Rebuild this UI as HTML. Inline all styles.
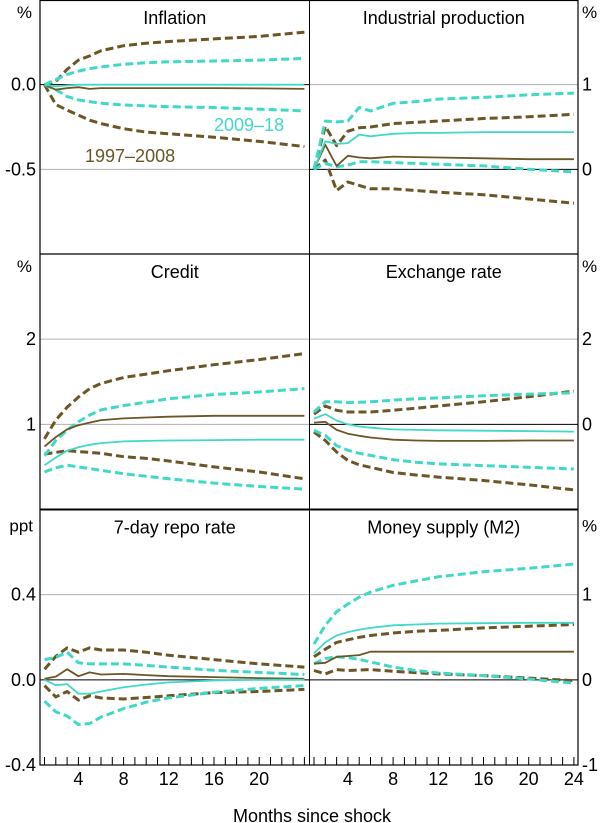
<!DOCTYPE html>
<html><head><meta charset="utf-8">
<style>
html,body{margin:0;padding:0;background:#fff;}
svg{display:block;font-family:"Liberation Sans",Arial,sans-serif;}
</style></head>
<body>
<svg id="chart" width="600" height="823" viewBox="0 0 600 823"></svg>
<script>
const months = [1,2,3,4,5,6,8,10,12,16,20,24];
// Inflation
const inflBrownUp = [0,0.02,0.09,0.145,0.17,0.2,0.23,0.245,0.255,0.27,0.285,0.31];
const inflBrownMid = [0,-0.03,-0.02,-0.015,-0.025,-0.02,-0.02,-0.02,-0.02,-0.02,-0.022,-0.025];
const inflBrownLo = [0,-0.117,-0.15,-0.18,-0.21,-0.23,-0.26,-0.28,-0.29,-0.31,-0.335,-0.365];
const inflTealUp = [0,0.03,0.06,0.08,0.095,0.105,0.12,0.13,0.135,0.14,0.145,0.155];
const inflTealMid = [0,-0.01,-0.005,0,0,0,0,0,0,0,0,0];
const inflTealLo = [0,-0.03,-0.07,-0.09,-0.1,-0.11,-0.12,-0.125,-0.13,-0.135,-0.145,-0.155];
// Industrial production
const ipBrownUp = [0,0.51,0.28,0.45,0.49,0.5,0.54,0.555,0.57,0.6,0.62,0.65];
const ipBrownMid = [0,0.29,0.04,0.16,0.14,0.13,0.15,0.145,0.14,0.13,0.12,0.12];
const ipBrownLo = [0,0.11,-0.25,-0.15,-0.19,-0.23,-0.23,-0.25,-0.27,-0.3,-0.35,-0.4];
const ipTealUp = [0,0.57,0.56,0.57,0.73,0.69,0.78,0.8,0.83,0.85,0.88,0.9];
const ipTealMid = [0,0.33,0.3,0.31,0.41,0.39,0.42,0.43,0.43,0.44,0.44,0.44];
const ipTealLo = [0,0.07,0.03,0.05,0.09,0.09,0.08,0.07,0.06,0.04,0,-0.03];
// Credit
const crBrownUp = [0.83,1.05,1.2,1.32,1.42,1.48,1.55,1.59,1.63,1.7,1.76,1.83];
const crBrownMid = [0.74,0.85,0.94,0.99,1.02,1.05,1.07,1.08,1.09,1.1,1.1,1.1];
const crBrownLo = [0.65,0.67,0.69,0.68,0.67,0.66,0.62,0.6,0.57,0.5,0.44,0.36];
const crTealUp = [0.63,0.81,0.93,1.03,1.11,1.17,1.22,1.26,1.3,1.35,1.38,1.42];
const crTealMid = [0.52,0.61,0.69,0.73,0.76,0.78,0.8,0.805,0.81,0.815,0.82,0.82];
const crTealLo = [0.44,0.49,0.52,0.5,0.48,0.46,0.42,0.39,0.36,0.31,0.27,0.24];
// Exchange rate
const fxBrownUp = [0.24,0.43,0.33,0.29,0.29,0.29,0.33,0.38,0.43,0.53,0.65,0.78];
const fxBrownMid = [0.04,0.06,-0.13,-0.22,-0.27,-0.31,-0.36,-0.38,-0.39,-0.39,-0.38,-0.38];
const fxBrownLo = [-0.18,-0.38,-0.65,-0.85,-0.95,-1.01,-1.13,-1.19,-1.24,-1.32,-1.42,-1.54];
const fxTealUp = [0.29,0.53,0.53,0.51,0.52,0.53,0.57,0.6,0.62,0.67,0.71,0.74];
const fxTealMid = [0.13,0.24,0.09,0,-0.05,-0.08,-0.12,-0.13,-0.14,-0.15,-0.16,-0.17];
const fxTealLo = [-0.14,-0.26,-0.5,-0.61,-0.68,-0.73,-0.83,-0.89,-0.93,-0.97,-1.01,-1.05];
// Repo rate
const rpBrownUp = [0.05,0.11,0.15,0.13,0.15,0.14,0.14,0.13,0.115,0.095,0.075,0.06];
const rpBrownMid = [0.005,0.015,0.05,0.017,0.035,0.025,0.028,0.022,0.017,0.013,0.008,0.005];
const rpBrownLo = [-0.027,-0.08,-0.055,-0.095,-0.075,-0.085,-0.09,-0.083,-0.075,-0.06,-0.055,-0.045];
const rpTealUp = [0.095,0.105,0.13,0.08,0.075,0.075,0.075,0.068,0.06,0.045,0.035,0.025];
const rpTealMid = [0,-0.025,-0.02,-0.065,-0.065,-0.055,-0.035,-0.022,-0.012,-0.003,0,0];
const rpTealLo = [-0.1,-0.15,-0.17,-0.21,-0.205,-0.175,-0.135,-0.105,-0.085,-0.058,-0.04,-0.027];
// Money supply
const m2BrownUp = [0.27,0.36,0.44,0.47,0.5,0.52,0.55,0.57,0.58,0.61,0.63,0.65];
const m2BrownMid = [0.19,0.2,0.27,0.28,0.29,0.33,0.33,0.33,0.33,0.33,0.33,0.33];
const m2BrownLo = [0.11,0.07,0.12,0.11,0.115,0.12,0.1,0.085,0.07,0.05,0.02,-0.01];
const m2TealUp = [0.42,0.64,0.8,0.89,0.97,1.03,1.11,1.16,1.21,1.27,1.31,1.36];
const m2TealMid = [0.31,0.44,0.52,0.56,0.59,0.61,0.64,0.65,0.66,0.665,0.67,0.67];
const m2TealLo = [0.19,0.25,0.27,0.26,0.24,0.21,0.15,0.11,0.08,0.05,0.01,-0.04];
const xTickLabelsLeft = [4,8,12,16,20];
const xTickLabelsRight = [4,8,12,16,20,24];

const BROWN = "#6b5625", TEAL = "#40d9c6";
const svg = document.getElementById('chart');
const NS = "http://www.w3.org/2000/svg";
function mk(tag, attrs, parent){ const e=document.createElementNS(NS,tag); for(const k in attrs) e.setAttribute(k,attrs[k]); (parent||svg).appendChild(e); return e; }

const colX = [[40,309.5],[309.5,578]];
const rowY = [[0,254],[254,509.5],[509.5,765]];
function xScale(col){ const L=colX[col][0]; return m => L+4.5+(m-1)*11.3; }
function yScale(row,min,max){ const [t,b]=rowY[row]; return v => b-(v-min)/(max-min)*(b-t); }

const panels = [
 {name:'inflation',title:'Inflation',col:0,row:0,min:-1,max:0.5,ticks:[0,-0.5],labels:['0.0','-0.5'],unit:'%',series:[inflBrownUp,inflBrownMid,inflBrownLo,inflTealUp,inflTealMid,inflTealLo]},
 {name:'industrial-production',title:'Industrial production',col:1,row:0,min:-1,max:2,ticks:[1,0],labels:['1','0'],unit:'%',series:[ipBrownUp,ipBrownMid,ipBrownLo,ipTealUp,ipTealMid,ipTealLo]},
 {name:'credit',title:'Credit',col:0,row:1,min:0,max:3,ticks:[2,1],labels:['2','1'],unit:'%',series:[crBrownUp,crBrownMid,crBrownLo,crTealUp,crTealMid,crTealLo]},
 {name:'exchange-rate',title:'Exchange rate',col:1,row:1,min:-2,max:4,ticks:[2,0],labels:['2','0'],unit:'%',series:[fxBrownUp,fxBrownMid,fxBrownLo,fxTealUp,fxTealMid,fxTealLo]},
 {name:'repo-rate',title:'7-day repo rate',col:0,row:2,min:-0.4,max:0.8,ticks:[0.4,0],labels:['0.4','0.0'],unit:'ppt',series:[rpBrownUp,rpBrownMid,rpBrownLo,rpTealUp,rpTealMid,rpTealLo]},
 {name:'money-supply',title:'Money supply (M2)',col:1,row:2,min:-1,max:2,ticks:[1,0],labels:['1','0'],unit:'%',series:[m2BrownUp,m2BrownMid,m2BrownLo,m2TealUp,m2TealMid,m2TealLo]}
];

panels.forEach(p=>{
  const g=mk('g',{});
  
  
  const x=xScale(p.col), y=yScale(p.row,p.min,p.max);
  const [L,R]=colX[p.col];
  p.ticks.forEach((t,i)=>{
    const yy=y(t);
    const gl=mk('line',{x1:L,x2:R,y1:yy,y2:yy,stroke:t===0?'#000':'#b0b0b0','stroke-width':1},g);
    
    
    const lab=mk('text',{x:p.col===0?36:582,y:yy+6,'font-size':18,'text-anchor':p.col===0?'end':'start',fill:'#000'},g);
    lab.textContent=p.labels[i];
    
    
  });
  if(p.row===2){
    const yy=y(p.min);
    const lab=mk('text',{x:p.col===0?36:582,y:yy+6,'font-size':18,'text-anchor':p.col===0?'end':'start',fill:'#000'},g);
    lab.textContent=p.col===0?'-0.4':'-1';
    
    
  }
  const u=mk('text',{x:p.col===0?(p.unit==='ppt'?33:32):582,y:rowY[p.row][0]+(p.row===2?22:18),'font-size':17,'text-anchor':p.col===0?'end':'start'},g);
  u.textContent=p.unit;
  
  
  const tt=mk('text',{x:(L+R)/2,y:rowY[p.row][0]+24,'font-size':18,'text-anchor':'middle'},g);
  tt.textContent=p.title;
  
  
  const styles=[[BROWN,true],[BROWN,false],[BROWN,true],[TEAL,true],[TEAL,false],[TEAL,true]];
  const names=['brown-upper-band','brown-response','brown-lower-band','teal-upper-band','teal-response','teal-lower-band'];
  const order=[0,2,3,5,1,4];
  order.forEach(i=>{
    const d=p.series[i].map((v,j)=>(j?'L':'M')+x(months[j]).toFixed(1)+','+y(v).toFixed(1)).join('');
    const path=mk('path',{d:d,fill:'none',stroke:styles[i][0],'stroke-width':styles[i][1]?3:1.8,'stroke-dasharray':styles[i][1]?'8 4':'none','stroke-linejoin':'round'},g);
    
    
  });
  if(p.row===2){
    for(let m=1;m<=24;m++){
      const tk=mk('line',{x1:x(m),x2:x(m),y1:765,y2:757,stroke:'#000','stroke-width':1},g);
      
      
    }
    (p.col===0?xTickLabelsLeft:xTickLabelsRight).forEach(m=>{
      const tl=mk('text',{x:x(m),y:785,'font-size':18,'text-anchor':'middle'},g);
      tl.textContent=m;
      
      
    });
  }
});

const fr=mk('rect',{x:40,y:0.5,width:538,height:764.5,fill:'none',stroke:'#000','stroke-width':1.2});


const vd=mk('line',{x1:309.5,x2:309.5,y1:0,y2:765,stroke:'#000','stroke-width':1});


[[254,1.2],[509.5,2]].forEach(([yy,w])=>{
  const hd=mk('line',{x1:40,x2:578,y1:yy,y2:yy,stroke:'#000','stroke-width':w});
  
  
});
const l1=mk('text',{x:214,y:131,'font-size':18,fill:TEAL});
l1.textContent='2009–18';


const l2=mk('text',{x:85,y:162,'font-size':18,fill:BROWN});
l2.textContent='1997–2008';


const xt=mk('text',{x:312,y:822,'font-size':18,'text-anchor':'middle'});
xt.textContent='Months since shock';


</script>
</body></html>
